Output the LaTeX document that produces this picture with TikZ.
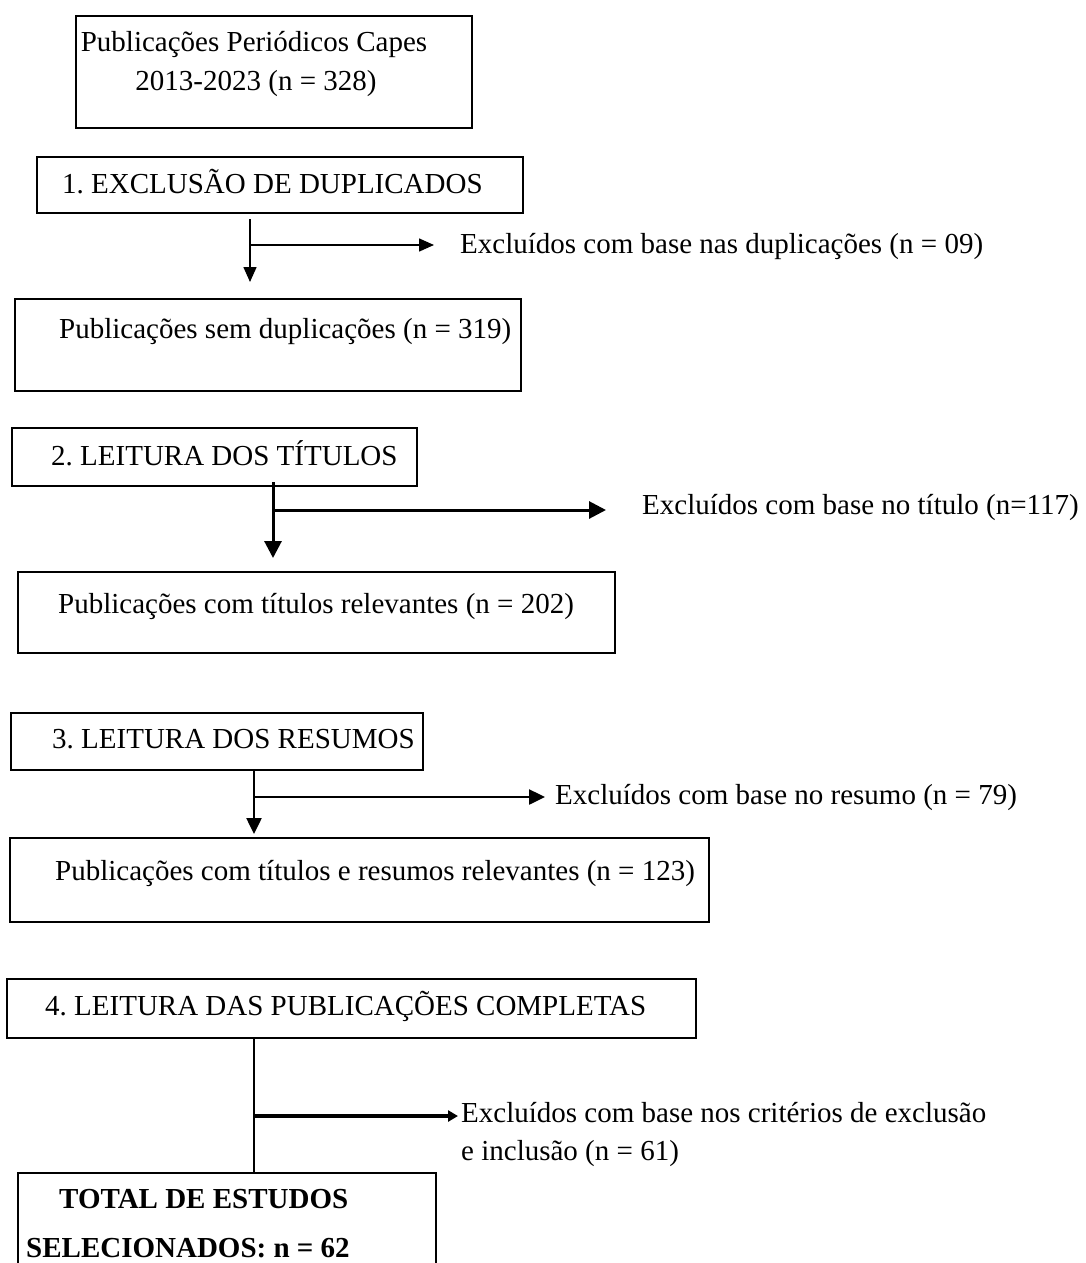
\documentclass[tikz,border=0pt]{standalone}
\usepackage{fontspec}
\setmainfont{Liberation Serif}
\usetikzlibrary{arrows.meta,calc}
\frenchspacing
\begin{document}
\begin{tikzpicture}[x=1pt,y=-1pt,
  box/.style={draw, line width=2pt, rectangle, inner sep=0pt, anchor=north west},
  txt/.style={inner sep=0pt, anchor=base west, font=\fontsize{29}{38}\selectfont},
  txtc/.style={inner sep=0pt, anchor=base, font=\fontsize{29}{38}\selectfont},
  btxt/.style={inner sep=0pt, anchor=base west, font=\fontsize{29}{38}\selectfont\bfseries},
  arrA/.style={line width=1.5pt, -{Triangle[length=15pt,width=13pt]}},
  arrB/.style={line width=3pt, -{Triangle[length=17pt,width=17pt]}},
  arrC/.style={line width=2.5pt, -{Triangle[length=16pt,width=15pt]}},
  arrD/.style={line width=3.5pt, -{Triangle[length=10pt,width=11pt]}},
  plain/.style={line width=2pt}]
\fill[white] (0,0) rectangle (1086,1263);
\clip (0,0) rectangle (1086,1263);

% boxes
\node[box, minimum width=396pt, minimum height=112pt] (b0) at (75,15) {};
\node[box, minimum width=486pt, minimum height=56pt] (b1) at (36,156) {};
\node[box, minimum width=506pt, minimum height=92pt] (b2) at (14,298) {};
\node[box, minimum width=405pt, minimum height=58pt] (b3) at (11,427) {};
\node[box, minimum width=597pt, minimum height=81pt] (b4) at (17,571) {};
\node[box, minimum width=412pt, minimum height=57pt] (b5) at (10,712) {};
\node[box, minimum width=699pt, minimum height=84pt] (b6) at (9,837) {};
\node[box, minimum width=689pt, minimum height=59pt] (b7) at (6,978) {};
\node[box, minimum width=418pt, minimum height=120pt] (b8) at (17,1172) {};

% box texts
\node[txtc] (t0a) at (254,52) {Publicações Periódicos Capes};
\node[txtc] (t0b) at (256,90) {2013-2023 (n = 328)};
\node[txt] (t1) at (62,193) {1. EXCLUSÃO DE DUPLICADOS};
\node[txt] (t2) at (59,338) {Publicações sem duplicações (n = 319)};
\node[txt] (t3) at (51,465) {2. LEITURA DOS TÍTULOS};
\node[txt] (t4) at (58,613) {Publicações com títulos relevantes (n = 202)};
\node[txt] (t5) at (52,748) {3. LEITURA DOS RESUMOS};
\node[txt] (t6) at (55,880) {Publicações com títulos e resumos relevantes (n = 123)};
\node[txt] (t7) at (45,1015) {4. LEITURA DAS PUBLICAÇÕES COMPLETAS};
\node[btxt] (t8a) at (59,1208) {TOTAL DE ESTUDOS};
\node[btxt] (t8b) at (26,1257) {SELECIONADOS: n = 62};

% exclusion labels
\node[txt] (e1) at (460,253) {Excluídos com base nas duplicações (n = 09)};
\node[txt] (e2) at (642,514) {Excluídos com base no título (n=117)};
\node[txt] (e3) at (555,804) {Excluídos com base no resumo (n = 79)};
\node[txt] (e4a) at (461,1122) {Excluídos com base nos critérios de exclusão};
\node[txt] (e4b) at (461,1160) {e inclusão (n = 61)};

% junctions
\coordinate (j1) at (250,245);
\coordinate (j2) at (273,510);
\coordinate (j3) at (254,797);
\coordinate (j4) at (254,1116);

% connectors
\draw[arrA] ($(b1.south -| j1)+(0pt,-5pt)$) -- ($(b2.north -| j1)+(0pt,16pt)$);
\draw[arrA] (j1) -- ($(e1.west |- j1)+(-26pt,0pt)$);

\draw[arrB] ($(b3.south -| j2)+(0pt,5pt)$) -- ($(b4.north -| j2)+(0pt,13pt)$);
\draw[arrB] (j2) -- ($(e2.west |- j2)+(-36pt,0pt)$);

\draw[arrC] (b5.south -| j3) -- ($(b6.north -| j3)+(0pt,3pt)$);
\draw[arrC] (j3) -- ($(e3.west |- j3)+(-10pt,0pt)$);

\draw[plain] (b7.south -| j4) -- (b8.north -| j4);
\draw[arrD] (j4) -- ($(e4a.west |- j4)+(-3pt,0pt)$);
\end{tikzpicture}
\end{document}
